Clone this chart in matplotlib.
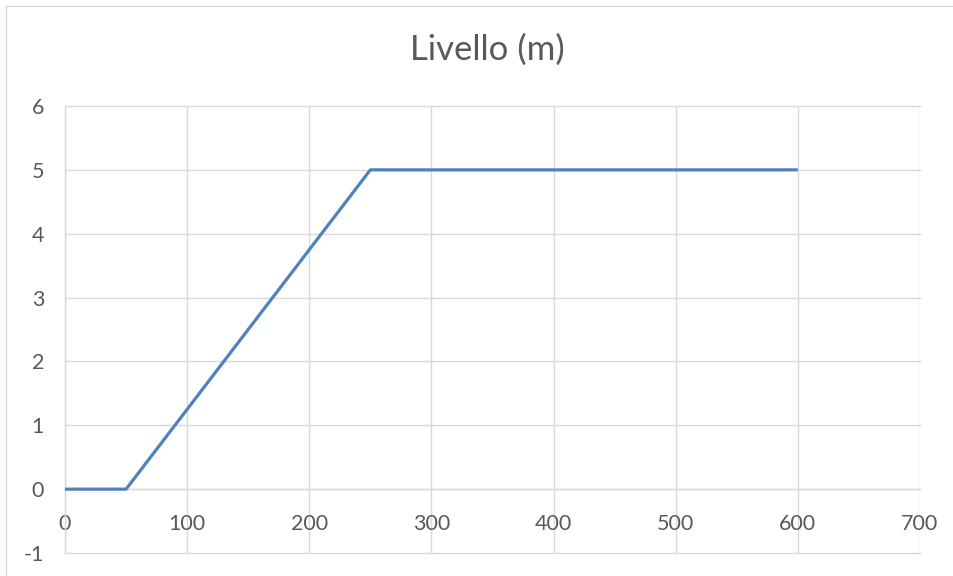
import matplotlib
matplotlib.use("Agg")
import matplotlib.pyplot as plt
from matplotlib.patches import Rectangle

# Data
time_x = [0, 50, 250, 600]
level_y = [0, 0, 5, 5]
x_ticks = [0, 100, 200, 300, 400, 500, 600, 700]
y_ticks = [-1, 0, 1, 2, 3, 4, 5, 6]
title = "Livello (m)"

plt.rcParams['font.family'] = ['Lato', 'DejaVu Sans']
txt = '#595959'
grid = '#d9d9d9'

fig = plt.figure(figsize=(9.54, 5.76), dpi=100)
W, H = 954, 576
ax = fig.add_axes([65 / W, 1 - 553 / H, (920 - 65) / W, (553 - 106) / H])

ax.plot(time_x, level_y, color='#4f81bd', lw=2.3, solid_capstyle='butt', zorder=3)

ax.set_xlim(0, 700)
ax.set_ylim(-1, 6)
ax.set_xticks(x_ticks)
ax.set_yticks(y_ticks)
ax.set_xticklabels([str(v) for v in x_ticks])
ax.set_yticklabels([str(v) for v in y_ticks])

ax.grid(True, color=grid, lw=1.0)
for ln in ax.get_xgridlines() + ax.get_ygridlines():
    ln.set_clip_on(False)
ax.set_axisbelow(True)

for s in ['top', 'right', 'left', 'bottom']:
    ax.spines[s].set_color(grid)
    ax.spines[s].set_linewidth(1.0)
ax.spines['top'].set_visible(False)
ax.spines['right'].set_visible(False)
ax.spines['bottom'].set_position(('data', 0))

ax.tick_params(axis='both', length=0, labelsize=15.5, labelcolor=txt)
ax.tick_params(axis='x', pad=18)
ax.tick_params(axis='y', pad=15)

fig.text(487 / W, 1 - 50 / H, title, ha='center', va='center', fontsize=25, color=txt)

fig.patches.append(Rectangle((6 / W, -0.1), 2, 1 - 6 / H + 0.1, transform=fig.transFigure,
                             fill=False, edgecolor=grid, lw=1.0))

fig.savefig('out.png', dpi=100)
